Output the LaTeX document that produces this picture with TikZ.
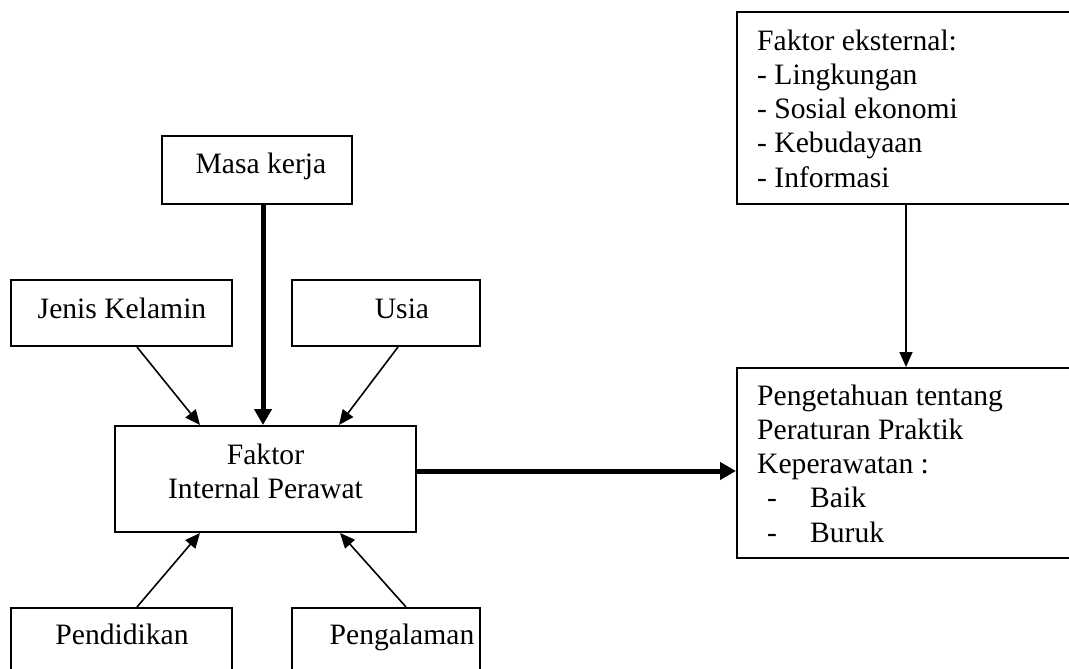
\documentclass[tikz,border=0pt]{standalone}
\usepackage{fontspec}
\setmainfont{Liberation Serif}
\usetikzlibrary{arrows.meta}
\newcommand{\diagfont}{\fontsize{29.6}{34.2}\selectfont}
\tikzset{
  box/.style={draw, line width=2pt, inner sep=0pt},
  txt/.style={inner sep=0pt, font=\diagfont},
  arr/.style={line width=1.6pt, -{Triangle[length=15pt,width=13pt]}},
  thickarr/.style={line width=5pt, -{Triangle[length=16pt,width=17pt]}}
}
\begin{document}
\begin{tikzpicture}[x=1pt,y=-1pt]
\useasboundingbox (0,0) rectangle (1069,669);
\clip (0,0) rectangle (1069,669);
\fill[white] (0,0) rectangle (1069,669);
% boxes
\node[box, minimum width=190pt, minimum height=68pt] (masa) at (257,170) {};
\node[box, minimum width=221pt, minimum height=66pt] (jk) at (121.5,313) {};
\node[box, minimum width=188pt, minimum height=66pt] (usia) at (386,313) {};
\node[box, minimum width=301pt, minimum height=106pt] (fi) at (265.5,479) {};
\node[box, minimum width=221pt, minimum height=90pt] (pend) at (121.5,653) {};
\node[box, minimum width=188pt, minimum height=90pt] (peng) at (386,653) {};
\node[box, minimum width=363pt, minimum height=192pt] (ext) at (918.5,108) {};
\node[box, minimum width=363pt, minimum height=190pt] (pk) at (918.5,463) {};
% texts
\node[txt, anchor=base] (masat) at (261,173) {Masa kerja};
\node[txt, anchor=base] (jkt) at (122,318) {Jenis Kelamin};
\node[txt, anchor=base] (usiat) at (402,318) {Usia};
\node[txt, anchor=base] (fit1) at (265.5,464) {Faktor};
\node[txt, anchor=base] (fit2) at (265.5,498) {Internal Perawat};
\node[txt, anchor=base] (pendt) at (122,644) {Pendidikan};
\node[txt, anchor=base] (pengt) at (402,644) {Pengalaman};
\node[txt, anchor=base west, align=left] (extt) at (757,187) {Faktor eksternal:\\- Lingkungan\\- Sosial ekonomi\\- Kebudayaan\\- Informasi};
\node[txt, anchor=base west, align=left] (pkt) at (757,542) {Pengetahuan tentang\\Peraturan Praktik\\Keperawatan :\\\hspace*{10pt}\makebox[43pt][l]{-}Baik\\\hspace*{10pt}\makebox[43pt][l]{-}Buruk};
% connectors
\draw[thickarr] ([xshift=6pt]masa.south) -- ([xshift=-2.5pt]fi.north);
\draw[arr] ([xshift=15.5pt]jk.south) -- ([xshift=-65.5pt]fi.north);
\draw[arr] ([xshift=12pt]usia.south) -- ([xshift=73.5pt]fi.north);
\draw[arr] ([xshift=15.5pt]pend.north) -- ([xshift=-65.5pt]fi.south);
\draw[arr] ([xshift=20pt]peng.north) -- ([xshift=74.5pt]fi.south);
\draw[thickarr] ([yshift=8pt]fi.east) -- ([yshift=-8pt]pk.west);
\draw[arr] ([xshift=-12.5pt]ext.south) -- ([xshift=-12.5pt]pk.north);
\end{tikzpicture}
\end{document}
